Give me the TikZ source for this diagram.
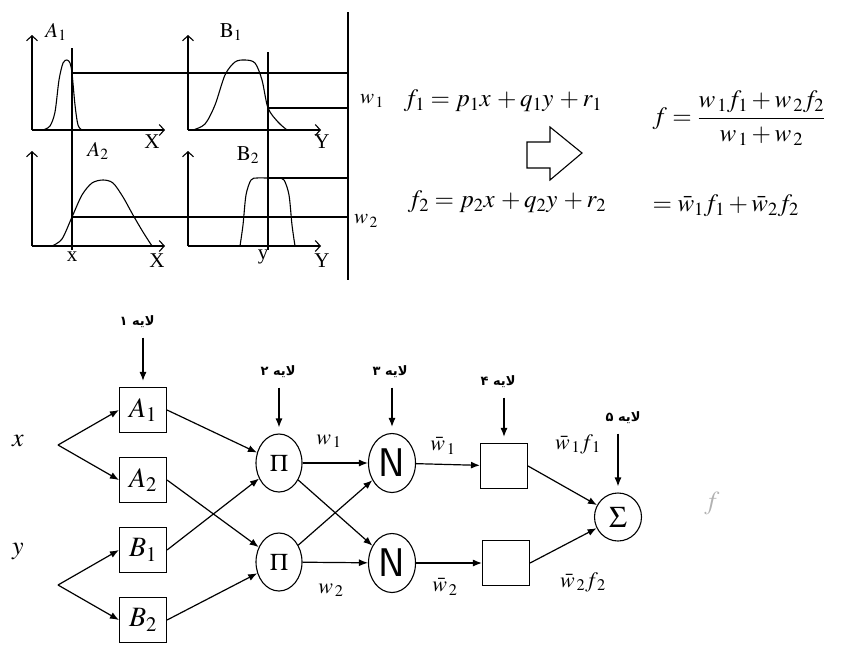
\documentclass[tikz,border=0pt]{standalone}
\usepackage{mathptmx}
\usepackage{fontspec}
\setmainfont{Liberation Serif}
\newfontfamily\farsi[Script=Arabic]{DejaVu Sans}
\TeXXeTstate=1
\usetikzlibrary{arrows.meta,positioning,shapes.geometric}
\newcommand{\sz}[1]{\fontsize{#1}{#1}\selectfont}

\begin{document}
\begin{tikzpicture}[x=1pt, y=-1pt,
  line width=1.1pt,
  ax/.style={-{Straight Barb[length=5pt,width=11pt]}},
  lbl/.style={font=\sz{21}, inner sep=0pt},
  wl/.style={font=\sz{22}, inner sep=0pt},
  eqn/.style={font=\sz{25}, inner sep=0pt},
  box/.style={draw, minimum width=47pt, minimum height=45pt, inner sep=0pt, font=\sz{28}},
  prod/.style={draw, ellipse, minimum width=46pt, minimum height=58pt, inner sep=0pt, font=\sz{24}},
  nrm/.style={draw, ellipse, minimum width=47pt, minimum height=59pt, inner sep=0pt, font=\sffamily\sz{40}},
  sumn/.style={draw, ellipse, minimum width=47pt, minimum height=48pt, inner sep=0pt, font=\sz{30}},
  lay/.style={font=\farsi\bfseries\sz{13}, inner sep=1pt},
  arr/.style={-{Latex[length=9pt,width=7pt]}, line width=1.2pt}
]
\useasboundingbox (0,0) rectangle (842,648);

% membership functions
\foreach \ox/\oy in {32/130, 188/130, 32/246, 188/246} {
  \draw[ax] (\ox,\oy) -- ++(0,-95);
  \draw[ax] (\ox,\oy) -- ++(133,0);
}
\draw plot[smooth] coordinates {(43,130) (50,126) (55,112) (59,80) (63,63) (67,60) (70,63) (72,73) (75,105) (78,125) (82,130)};
\draw plot[smooth] coordinates {(193,130) (205,124) (215,105) (225,75) (235,62) (245,60) (255,63) (262,80) (268,108) (278,122) (287,130)};
\draw plot[smooth] coordinates {(52,246) (62,239) (72,217) (82,195) (92,183) (103,180) (113,183) (123,197) (133,215) (143,232) (152,246)};
\draw plot[smooth] coordinates {(240,246) (243,225) (246,195) (251,180) (257,178) (267,178) (278,178) (284,180) (289,195) (292,225) (295,246)};
\draw (72,48) -- (72,250);
\draw (268,52) -- (268,250);
\draw (72,73) -- (348,73);
\draw (268,108) -- (348,108);
\draw (268,178) -- (348,178);
\draw (72,217) -- (348,217);
\draw (348,12) -- (348,280);

\node[lbl] (la1) at (56,32) {$A_1$};
\node[lbl] (lb1) at (231,32) {$\mathrm{B}_1$};
\node[lbl] (la2) at (98,151) {$A_2$};
\node[lbl] (lb2) at (248,155) {$\mathrm{B}_2$};
\node[lbl] (lx1) at (152,142) {X};
\node[lbl] (ly1) at (322,142) {Y};
\node[lbl] (lx) at (72,257) {x};
\node[lbl] (lx2) at (157,261) {X};
\node[lbl] (ly) at (263,257) {y};
\node[lbl] (ly2) at (322,261) {Y};
\node[lbl] (lw1) at (372,101) {$w_{\,1}$};
\node[lbl] (lw2) at (366,221) {$w_{\,2}$};

% rules and averaging
\node[eqn] (eq1) at (503,101) {$f_1 = p_1x\, + q_1y\, + r_1$};
\node[eqn] (eq2) at (507,202) {$f_2 = p_2x\, + q_2y\, + r_2$};
\node[eqn, anchor=west] (eq3) at (652,118) {$\displaystyle f = \frac{w_{\,1}f_1 + w_{\,2}f_2}{w_{\,1} + w_{\,2}}$};
\node[eqn, anchor=west] (eq4) at (652,206) {$=\bar{w}_1f_1 + \bar{w}_2f_2$};
\draw (527,142) -- (550,142) -- (550,127) -- (582,153) -- (550,180) -- (550,168) -- (527,168) -- cycle;

% network
\node[lbl, font=\sz{26}] (x) at (18,441) {$x$};
\node[lbl, font=\sz{26}] (y) at (18,551) {$y$};
\coordinate (xs) at (58,445);
\coordinate (ys) at (58,585);
\node[box] (A1) at (143,410) {$A_1$};
\node[box] (A2) at (143,480) {$A_2$};
\node[box] (B1) at (143,550) {$B_1$};
\node[box] (B2) at (143,620) {$B_2$};
\node[prod] (P1) at (279,463) {$\Pi$};
\node[prod] (P2) at (279,562) {$\Pi$};
\node[nrm] (N1) at (392,463) {N};
\node[nrm] (N2) at (392,563) {N};
\node[box] (C1) at (504,466) {};
\node[box] (C2) at (506,563) {};
\node[sumn] (S) at (618,517) {$\Sigma$};
\node[lbl, font=\sz{26}, text=gray!60] (f) at (712,503) {$f$};

\node[lay] (t1) at (137,322) {\beginR لایه ۱\endR};
\node[lay] (t2) at (278,372) {\beginR لایه ۲\endR};
\node[lay] (t3) at (390,372) {\beginR لایه ۳\endR};
\node[lay] (t4) at (498,382) {\beginR لایه ۴\endR};
\node[lay] (t5) at (623,418) {\beginR لایه ۵\endR};

\foreach \a/\b in {t1/A1, t2/P1, t3/N1, t4/C1, t5/S}
  \draw[arr, shorten <=8pt, shorten >=6pt] (\a.south -| \b.north) -- (\b.north);

\foreach \a/\b in {xs/A1, xs/A2, ys/B1, ys/B2}
  \draw[arr] (\a) -- (\b.west);
\foreach \a/\b in {A1/P1, B1/P1, A2/P2, B2/P2}
  \draw[arr] (\a.east) -- (\b);
\foreach \a/\b in {P1/N1, P1/N2, P2/N1, P2/N2, N1/C1, N2/C2}
  \draw[arr] (\a) -- (\b);
\draw[arr] (C1.east) -- (S);
\draw[arr] (C2.east) -- (S);

\node[wl] (w1) at (329,441) {$w_{\,1}$};
\node[wl] (w2) at (331,590) {$w_{\,2}$};
\node[wl] (wb1) at (443,446) {$\bar{w}_{\,1}$};
\node[wl] (wb2) at (445,587) {$\bar{w}_{\,2}$};
\node[wl] (wf1) at (578,444) {$\bar{w}_{\,1}f_{\,1}$};
\node[wl] (wf2) at (583,582) {$\bar{w}_{\,2}f_{\,2}$};
\end{tikzpicture}
\end{document}
